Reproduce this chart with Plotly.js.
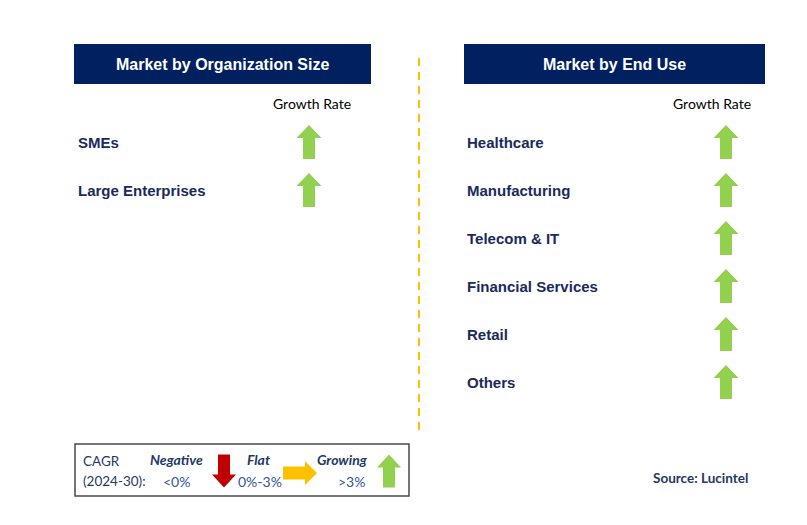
<!DOCTYPE html>
<html>
<head>
<meta charset="utf-8">
<script src="https://cdn.plot.ly/plotly-3.0.1.min.js"></script>
<style>html,body{margin:0;padding:0;background:#fff;}#chart{width:807px;height:525px;}</style>
</head>
<body>
<div id="chart"></div>
<script>
// ---- data ----
var orgTitle = 'Market by Organization Size';
var orgSegments = ['SMEs', 'Large Enterprises'];
var orgGrowth = ['Growing', 'Growing'];

var endUseTitle = 'Market by End Use';
var endUseSegments = ['Healthcare', 'Manufacturing', 'Telecom & IT', 'Financial Services', 'Retail', 'Others'];
var endUseGrowth = ['Growing', 'Growing', 'Growing', 'Growing', 'Growing', 'Growing'];

var legendLabels = ['Negative', 'Flat', 'Growing'];
var legendRanges = ['<0%', '0%-3%', '>3%'];
var legendTitle = ['CAGR', '(2024-30):'];
var columnHeader = 'Growth Rate';
var sourceText = 'Source: Lucintel';

// ---- styling ----
var navy = '#002060';
var labelColor = '#1a2a5c';
var growthColor = {Negative: '#C00000', Flat: '#FFC000', Growing: '#92D050'};
var growthDir = {Negative: 'down', Flat: 'right', Growing: 'up'};

var traces = [];
var annotations = [];
var shapes = [];

function arrowPath(cx, cy, dir, L, W, headL, stemW) {
  var h = L / 2, w = W / 2, s = stemW / 2;
  var pts = [[0, -h], [w, -h + headL], [s, -h + headL], [s, h], [-s, h], [-s, -h + headL], [-w, -h + headL], [0, -h]];
  var xs = [], ys = [];
  pts.forEach(function (p) {
    var px = p[0], py = p[1], rx, ry;
    if (dir === 'up') { rx = px; ry = py; }
    else if (dir === 'down') { rx = px; ry = -py; }
    else if (dir === 'right') { rx = -py; ry = px; }
    else { rx = py; ry = px; }
    xs.push(cx + rx); ys.push(cy + ry);
  });
  return {x: xs, y: ys};
}

function addArrow(cx, cy, growth, L, W, headL, stemW) {
  var p = arrowPath(cx, cy, growthDir[growth], L, W, headL, stemW);
  traces.push({
    type: 'scatter', mode: 'lines', x: p.x, y: p.y, fill: 'toself',
    fillcolor: growthColor[growth], line: {width: 0, color: growthColor[growth]},
    hoverinfo: 'skip', showlegend: false
  });
}

function addPanel(x0, x1, title, segments, growth, labelX, arrowX, headerX) {
  shapes.push({type: 'rect', xref: 'x', yref: 'y', x0: x0, x1: x1, y0: 44, y1: 84,
    fillcolor: navy, line: {width: 0}, layer: 'below'});
  annotations.push({x: (x0 + x1) / 2, y: 64, xref: 'x', yref: 'y', text: '<b>' + title + '</b>',
    showarrow: false, font: {family: 'Liberation Sans, Arial', size: 16, color: '#ffffff'}});
  annotations.push({x: headerX, y: 103, xref: 'x', yref: 'y', text: columnHeader,
    showarrow: false, font: {family: 'Lato, Open Sans', size: 14, color: '#000000'}});
  var ys = segments.map(function (s, i) { return 144 + i * 48; });
  traces.push({
    type: 'scatter', mode: 'text', x: segments.map(function () { return labelX; }), y: ys,
    text: segments.map(function (s) { return '<b>' + s + '</b>'; }),
    textposition: 'middle right',
    textfont: {family: 'Liberation Sans, Arial', size: 15, color: labelColor},
    hoverinfo: 'skip', showlegend: false
  });
  segments.forEach(function (s, i) {
    addArrow(arrowX, ys[i] - 2, growth[i], 34, 25, 13, 12);
  });
}

addPanel(74, 371, orgTitle, orgSegments, orgGrowth, 78, 309, 312);
addPanel(464, 765, endUseTitle, endUseSegments, endUseGrowth, 467, 726, 712);

// divider
shapes.push({type: 'line', xref: 'x', yref: 'y', x0: 419, x1: 419, y0: 58, y1: 430,
  line: {color: '#FFC000', width: 2, dash: '8px,6px'}});

// legend box
shapes.push({type: 'rect', xref: 'x', yref: 'y', x0: 75, x1: 409, y0: 444, y1: 496,
  fillcolor: 'rgba(0,0,0,0)', line: {color: '#4a4a4a', width: 1.5}});
annotations.push({x: 81, y: 461, xref: 'x', yref: 'y', xanchor: 'left', text: legendTitle[0],
  showarrow: false, font: {family: 'Lato, Open Sans', size: 13.5, color: '#1F3864'}});
annotations.push({x: 81, y: 481, xref: 'x', yref: 'y', xanchor: 'left', text: legendTitle[1],
  showarrow: false, font: {family: 'Lato, Open Sans', size: 13.5, color: '#1F3864'}});
var legLabelX = [176, 258, 342];
var legRangeX = [176, 260, 351];
var legArrowX = [224, 300, 389];
var legArrowY = [471, 473, 471];
legendLabels.forEach(function (lab, i) {
  annotations.push({x: legLabelX[i], y: 459, xref: 'x', yref: 'y', text: '<b><i>' + lab + '</i></b>',
    showarrow: false, font: {family: 'Lato, Open Sans', size: 14, color: '#1F3864'}});
  annotations.push({x: legRangeX[i], y: 481, xref: 'x', yref: 'y', text: legendRanges[i],
    showarrow: false, font: {family: 'Lato, Open Sans', size: 14, color: '#2F5597'}});
  if (growthDir[lab] === 'right') addArrow(legArrowX[i], legArrowY[i], lab, 34, 24, 12, 13);
  else addArrow(legArrowX[i], legArrowY[i], lab, 33, 24, 13, 12);
});

annotations.push({x: 700, y: 478, xref: 'x', yref: 'y', text: '<b>' + sourceText + '</b>',
  showarrow: false, font: {family: 'Lato, Open Sans', size: 13.5, color: '#1F3864'}});

var layout = {
  width: 807, height: 525,
  margin: {l: 0, r: 0, t: 0, b: 0},
  paper_bgcolor: '#ffffff', plot_bgcolor: '#ffffff',
  xaxis: {range: [0, 807], visible: false, fixedrange: true},
  yaxis: {range: [525, 0], visible: false, fixedrange: true},
  shapes: shapes, annotations: annotations, showlegend: false
};

Plotly.newPlot('chart', traces, layout, {staticPlot: true, displayModeBar: false});
</script>
</body>
</html>
